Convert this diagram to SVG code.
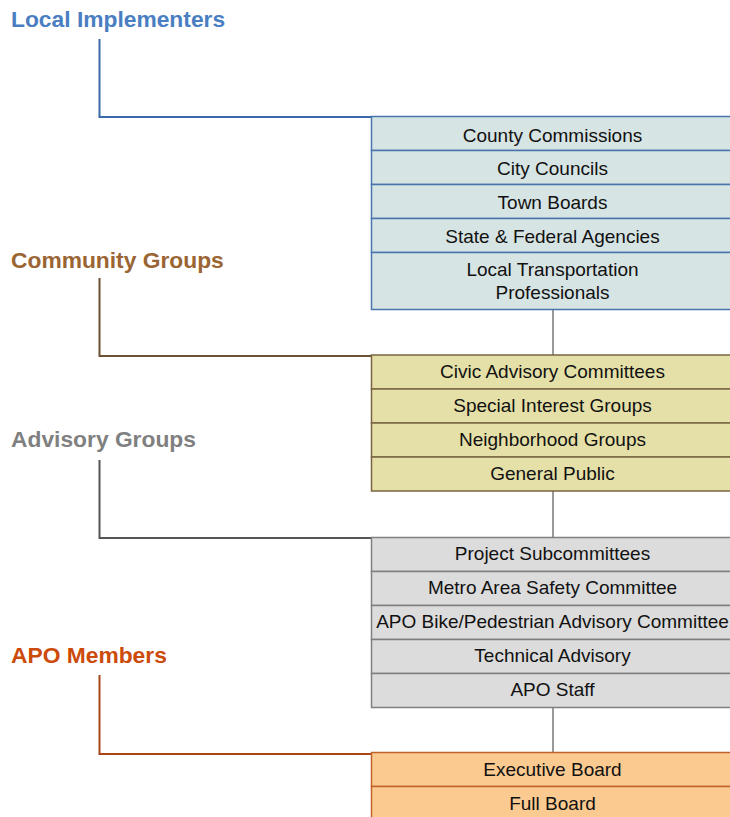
<svg xmlns="http://www.w3.org/2000/svg" width="730" height="817" viewBox="0 0 730 817">
<style>
  .hd { font-family: "Liberation Sans", Arial, sans-serif; font-weight: bold; font-size: 22.8px; }
  .tx { font-family: "Liberation Sans", Arial, sans-serif; font-size: 19px; fill: #111; text-anchor: middle; }
  .br { fill: none; stroke-width: 2; }
  .mid { stroke: #777; stroke-width: 1.5; fill: none; }
  .b1 rect { fill: #D7E4E4; stroke: #4A74AC; stroke-width: 1.5; }
  .b2 rect { fill: #E5E0A8; stroke: #7A6540; stroke-width: 1.5; }
  .b3 rect { fill: #DCDCDC; stroke: #7F7F7F; stroke-width: 1.5; }
  .b4 rect { fill: #FBCA90; stroke: #C0632A; stroke-width: 1.5; }
</style>
<rect width="730" height="817" fill="#fff"/>
<g id="connectors">
  <path class="br" stroke="#3A69A8" d="M99.5,39 V117 H371.5"/>
  <path class="br" stroke="#6B5133" d="M99.5,278 V356 H371.5"/>
  <path class="br" stroke="#555555" d="M99.5,460 V538 H371.5"/>
  <path class="br" stroke="#A8461A" d="M99.5,675 V754 H371.5"/>
  <line class="mid" x1="553" y1="309.5" x2="553" y2="355"/>
  <line class="mid" x1="553" y1="491" x2="553" y2="537.5"/>
  <line class="mid" x1="553" y1="707.5" x2="553" y2="752.5"/>
</g>
<g id="heading-local"><text class="hd" x="11" y="26.5" fill="#4A7EC2">Local Implementers</text></g>
<g id="heading-community"><text class="hd" x="11" y="268" fill="#9A6433">Community Groups</text></g>
<g id="heading-advisory"><text class="hd" x="11" y="447" fill="#808080">Advisory Groups</text></g>
<g id="heading-apo"><text class="hd" x="11" y="663" fill="#CC4A0A">APO Members</text></g>
<g id="box-local" class="b1">
  <rect x="371.5" y="116.5" width="362" height="34"/>
  <rect x="371.5" y="150.5" width="362" height="34"/>
  <rect x="371.5" y="184.5" width="362" height="34"/>
  <rect x="371.5" y="218.5" width="362" height="34"/>
  <rect x="371.5" y="252.5" width="362" height="57"/>
  <text class="tx" x="552.5" y="141.5">County Commissions</text>
  <text class="tx" x="552.5" y="174.5">City Councils</text>
  <text class="tx" x="552.5" y="208.5">Town Boards</text>
  <text class="tx" x="552.5" y="242.5">State &amp; Federal Agencies</text>
  <text class="tx" x="552.5" y="276">Local Transportation</text>
  <text class="tx" x="552.5" y="299">Professionals</text>
</g>
<g id="box-community" class="b2">
  <rect x="371.5" y="355" width="362" height="34"/>
  <rect x="371.5" y="389" width="362" height="34"/>
  <rect x="371.5" y="423" width="362" height="34"/>
  <rect x="371.5" y="457" width="362" height="34"/>
  <text class="tx" x="552.5" y="378">Civic Advisory Committees</text>
  <text class="tx" x="552.5" y="412">Special Interest Groups</text>
  <text class="tx" x="552.5" y="446">Neighborhood Groups</text>
  <text class="tx" x="552.5" y="480">General Public</text>
</g>
<g id="box-advisory" class="b3">
  <rect x="371.5" y="537.5" width="362" height="34"/>
  <rect x="371.5" y="571.5" width="362" height="34"/>
  <rect x="371.5" y="605.5" width="362" height="34"/>
  <rect x="371.5" y="639.5" width="362" height="34"/>
  <rect x="371.5" y="673.5" width="362" height="34"/>
  <text class="tx" x="552.5" y="560">Project Subcommittees</text>
  <text class="tx" x="552.5" y="594">Metro Area Safety Committee</text>
  <text class="tx" x="552.5" y="628">APO Bike/Pedestrian Advisory Committee</text>
  <text class="tx" x="552.5" y="662">Technical Advisory</text>
  <text class="tx" x="552.5" y="696">APO Staff</text>
</g>
<g id="box-apo" class="b4">
  <rect x="371.5" y="752.5" width="362" height="34"/>
  <rect x="371.5" y="786.5" width="362" height="34"/>
  <text class="tx" x="552.5" y="775.5">Executive Board</text>
  <text class="tx" x="552.5" y="809.5">Full Board</text>
</g>
</svg>
